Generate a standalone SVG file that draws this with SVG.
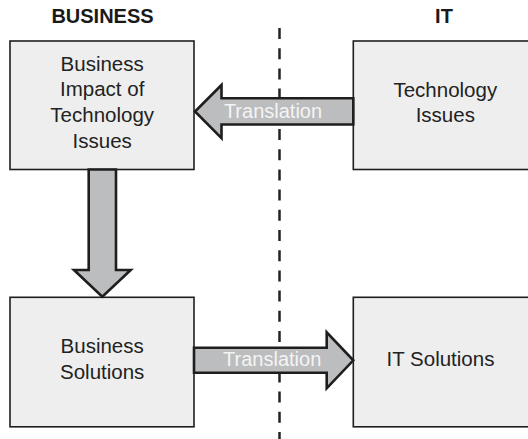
<svg xmlns="http://www.w3.org/2000/svg" width="528" height="439" viewBox="0 0 528 439">
<style>
.box{fill:#eeeeee;stroke:#1e1e1e;stroke-width:1.6}
.arr{fill:#bcbdbf;stroke:#1e1e1e;stroke-width:2.6;stroke-linejoin:miter}
.t{font-family:"Liberation Sans",Arial,sans-serif;font-size:20.5px;fill:#222;text-anchor:middle}
.h{font-family:"Liberation Sans",Arial,sans-serif;font-size:20px;font-weight:bold;fill:#1a1a1a;text-anchor:middle}
.tr{font-family:"Liberation Sans",Arial,sans-serif;font-size:20px;fill:#f4f4f4;text-anchor:middle}
</style>
<rect width="528" height="439" fill="#ffffff"/>
<g id="headers">
<text class="h" x="102.5" y="23.3">BUSINESS</text>
<text class="h" x="444" y="23.3">IT</text>
</g>
<line x1="279.5" y1="28" x2="279.5" y2="439" stroke="#222" stroke-width="2.5" stroke-dasharray="11 9.2"/>
<g id="n1">
<rect class="box" x="10" y="41" width="184" height="128.5"/>
<text class="t" x="102.2" y="70.7">Business</text>
<text class="t" x="102.2" y="96.4">Impact of</text>
<text class="t" x="102.2" y="122.1">Technology</text>
<text class="t" x="102.2" y="147.8">Issues</text>
</g>
<g id="n2">
<rect class="box" x="353.3" y="41" width="190" height="128.5"/>
<text class="t" x="445.3" y="96.7">Technology</text>
<text class="t" x="445.3" y="121.7">Issues</text>
</g>
<g id="n3">
<rect class="box" x="10" y="297.3" width="184" height="129.5"/>
<text class="t" x="102.2" y="353.3">Business</text>
<text class="t" x="102.2" y="379">Solutions</text>
</g>
<g id="n4">
<rect class="box" x="353.3" y="297.3" width="190" height="129.5"/>
<text class="t" x="440.5" y="365.5">IT Solutions</text>
</g>
<g id="connectors">
<polygon class="arr" points="353.3,98.3 221.5,98.3 221.5,85 195,111.5 221.5,138.2 221.5,124.5 353.3,124.5"/>
<text class="tr" x="273" y="118">Translation</text>
<polygon class="arr" points="88.7,169.5 88.7,270 74,270 102.3,296.7 130.7,270 116,270 116,169.5"/>
<polygon class="arr" points="194,347.7 326.7,347.7 326.7,332.3 353.3,360.3 326.7,388.3 326.7,372.7 194,372.7"/>
<text class="tr" x="272.2" y="365.7">Translation</text>
</g>
</svg>
